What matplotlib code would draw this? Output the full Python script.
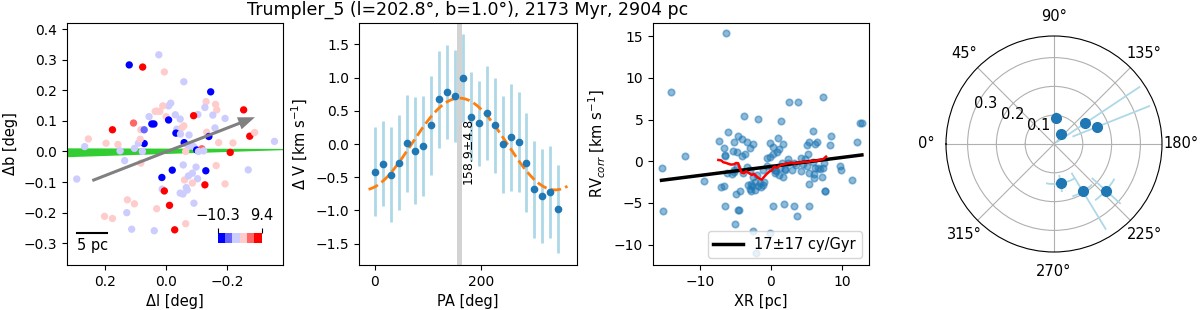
import numpy as np
import matplotlib
matplotlib.use('Agg')
import matplotlib.pyplot as plt
from matplotlib.colors import Normalize
from matplotlib.cm import ScalarMappable

title = 'Trumpler_5 (l=202.8°, b=1.0°), 2173 Myr, 2904 pc'
dist_pc = 2904
scale_pc = 5

# Panel 1: sky positions coloured by velocity
dl = [0.024, 0.121, 0.077, 0.006, -0.058, -0.146, -0.131, -0.162, -0.166, -0.127,
      -0.015, -0.008, 0.011, 0.030, 0.036, 0.021, -0.030, 0.000, -0.008, -0.046,
      -0.104, -0.090, -0.153, -0.193, -0.254, 0.056, 0.047, 0.040, 0.107, 0.176,
      0.083, 0.072, -0.035, -0.052, -0.058, -0.032, -0.047, -0.075, -0.133, -0.140,
      -0.160, -0.172, -0.219, -0.274, -0.290, -0.059, 0.072, 0.091, 0.085, 0.267,
      0.255, 0.197, 0.158, 0.151, 0.104, 0.078, -0.073, -0.090, -0.100, -0.117,
      -0.106, -0.123, -0.064, -0.210, -0.355, 0.293, 0.136, 0.083, -0.056, -0.098,
      -0.164, 0.014, -0.020, -0.060, -0.073, -0.086, -0.103, -0.130, -0.127, -0.086,
      -0.193, -0.269, 0.013, 0.006, -0.046, -0.055, -0.069, -0.066, 0.127, 0.104,
      -0.011, -0.091, 0.129, 0.031, 0.202, 0.176, -0.064, 0.113, 0.039, -0.028]
db = [0.316, 0.283, 0.276, 0.260, 0.228, 0.195, 0.163, 0.154, 0.136, 0.144,
      0.158, 0.149, 0.149, 0.132, 0.131, 0.131, 0.120, 0.114, 0.103, 0.106,
      0.121, 0.117, 0.119, 0.108, 0.136, 0.114, 0.090, 0.090, 0.093, 0.071,
      0.071, 0.071, 0.073, 0.078, 0.084, 0.060, 0.057, 0.054, 0.063, 0.049,
      0.077, 0.029, 0.028, 0.050, 0.062, 0.029, 0.026, 0.027, 0.040, 0.016,
      0.041, 0.027, 0.023, 0.002, 0.010, 0.000, 0.016, 0.016, 0.005, 0.009,
      0.000, 0.002, 0.000, -0.003, 0.033, -0.090, -0.030, -0.038, -0.044, -0.051,
      -0.046, -0.085, -0.061, -0.093, -0.080, -0.071, -0.089, -0.063, -0.109, -0.103,
      -0.106, -0.060, -0.123, -0.129, -0.136, -0.139, -0.126, -0.118, -0.158, -0.171,
      -0.176, -0.169, -0.200, -0.187, -0.212, -0.219, -0.236, -0.254, -0.259, -0.256]
dv = [-2, -9, 8, 1.5, -2, -8, 1.5, 1.5, 1.5, -2,
      -2, -2, 1.5, 1.5, 1.5, 1.5, -2, 1.5, -8, -2,
      -2, 8, -2, -2, 8, -2, -9, -8, 5, 8,
      1.5, -6, -2, 1.5, 1.5, -9, -2, -2, 1.5, -8,
      -2, 1.5, 1.5, 8, 1.5, -9, -9, -2, 1.5, -2,
      1.5, 1.5, 1.5, -2, -2, -2, -2, -2, -9, 5,
      -2, -2, 1.5, 8, -2, -2, -2, 1.5, -2, -2,
      1.5, -9, -9, 1.5, -2, -2, -2, -8, 8, 1.5,
      1.5, -2, -2, 8, -2, -2, -2, -2, 1.5, 1.5,
      8, -2, -2, 1.5, 1.5, 1.5, 1.5, -2, -2, 8]
dv_min, dv_max = -10.3, 9.4
arrow_tail = (0.242, -0.095)
arrow_tip = (-0.291, 0.112)
plane_l = [0.325, -0.383]
plane_b_lo = [-0.017, 0.006]
plane_b_hi = [0.012, 0.010]

# Panel 2: velocity vs position angle
pa = [0, 15, 30, 45, 60, 75, 90, 105, 120, 135, 150, 165,
      180, 195, 210, 225, 240, 255, 270, 285, 300, 315, 330, 345]
dvel = [-0.42, -0.30, -0.46, -0.28, 0.01, -0.10, -0.03, 0.28, 0.67, 0.78, 0.72, 0.99,
        0.41, 0.31, 0.47, 0.28, -0.005, 0.10, 0.035, -0.28, -0.68, -0.78, -0.72, -0.98]
dvel_err = [0.67, 0.64, 0.71, 0.71, 0.73, 0.80, 0.75, 0.74, 0.73, 0.71, 0.69, 0.66,
            0.67, 0.64, 0.71, 0.71, 0.73, 0.80, 0.75, 0.74, 0.73, 0.71, 0.69, 0.66]
pa_fit, pa_fit_err, amp_fit = 158.9, 4.8, 0.69

# Panel 3: corrected RV vs distance along rotation axis
xr = [-6.38, -14.13, -15.4, -15.26, -12.07, -9.44, -7.32, -6.1, -6.6, -6.48,
      -6.45, -3.85, -1.83, -4.69, -5.21, -4.04, -3.43, -2.91, -2.49, -3.71,
      -4.13, -5.3, -6.15, -5.45, -5.21, -7.0, -6.57, -6.48, -4.98, -4.37,
      -4.65, -4.55, -5.12, -3.9, -3.43, -2.77, -2.77, -2.3, -2.2, -1.88,
      -1.46, -1.08, -0.94, -2.02, -2.5, -1.17, -0.56, -0.14, 0.23, 0.23,
      0.85, 1.03, 1.64, 1.17, 1.46, 2.58, 3.85, 7.37, 5.87, 5.4,
      5.12, 5.21, 6.24, 6.43, 8.4, 8.31, 9.72, 9.9, 11.4, 12.16,
      12.49, 0.23, 1.78, 3.24, 5.3, 3.71, 7.6, 7.65, 5.3, 5.4,
      6.06, 6.57, 7.14, 6.9, 7.28, 7.42, 1.74, 1.27, 2.35, 1.97,
      2.96, 2.44, 3.29, 4.23, 4.79, 5.12, 5.87, 6.2, -0.14, 0.09,
      0.66, 1.17, -4.74, -2.49, -0.14, -2.16, -4.74, -5.21, -3.2, -2.6,
      -3.0, -1.6, -0.5, 0.5, 2.0, 3.5, 4.5, 6.0, -3.0, 4.18,
      1.5, 0.56, 12.8]
rv = [15.36, 8.28, -0.84, -5.92, 0.68, -2.36, 2.48, 3.56, 1.56, 0.68,
      0.75, 5.4, 5.04, 3.08, 2.28, 2.68, 2.28, 1.56, 2.04, 0.88,
      0.64, 1.28, -1.44, -1.56, -1.04, -3.12, -2.96, -5.36, -3.92, -3.6,
      -5.84, -5.84, -7.56, -1.44, -0.64, -2.76, -3.56, -3.44, -2.44, -2.92,
      -3.12, -2.84, -2.48, -1.64, -1.84, -1.04, 0.36, 2.16, 1.76, 0.84,
      1.16, 2.76, 2.08, 1.48, 4.84, 7.16, 7.16, 7.76, 3.6, 2.36,
      1.96, 0.88, 2.08, 2.36, 3.04, 2.0, -0.56, -1.04, -2.28, 2.36,
      4.56, -5.36, -5.12, -5.36, -5.32, -6.52, -3.52, -3.56, -2.76, -1.36,
      -1.96, -0.84, -1.84, -0.92, -0.84, -0.16, -1.84, -0.84, -0.24, -0.92,
      -1.04, 0.24, -0.16, -1.16, 0.24, -0.52, -0.12, -0.84, 0.56, -0.84,
      -1.12, -1.64, 1.16, -8.36, -8.64, -11.04, -0.68, -1.24, -2.9, -3.0,
      -3.3, -2.6, -0.6, -1.0, -1.1, -0.4, -0.3, -1.5, -1.0, 0.44,
      -0.16, -1.44, 4.56]
run_x = [-7.4, -7.0, -6.7, -6.3, -6.0, -5.6, -5.2, -4.9, -4.6, -4.5, -4.37, -4.13,
         -3.8, -3.5, -3.3, -3.05, -2.7, -2.4, -2.0, -1.64, -1.3, -1.0, -0.6, -0.23,
         0.1, 0.3, 0.56, 0.8, 1.17, 1.5, 1.97, 2.44, 2.9, 3.3, 3.85, 4.3,
         4.8, 5.2, 5.7, 6.4, 6.9, 7.4, 7.75]
run_y = [0.16, 0.1, -0.12, -0.2, -0.3, -0.4, -0.36, -0.2, -0.24, -0.6, -0.84, -1.36,
         -1.44, -1.2, -1.3, -1.44, -1.64, -1.5, -1.84, -2.08, -2.2, -1.9, -1.52, -1.24,
         -1.1, -0.8, -0.64, -0.8, -0.56, -0.44, -0.32, -0.24, -0.16, -0.25, -0.16, -0.12,
         -0.04, -0.08, 0.04, 0.08, 0.16, 0.28, 0.56]
fit_slope, fit_icpt = 0.108, -0.62
fit_label = '17±17 cy/Gyr'

# Panel 4: polar
pol_theta = [93.7, 125.9, 146.3, 158.3, 260.5, 238.7, 221.9]
pol_r = [0.090, 0.041, 0.129, 0.159, 0.139, 0.193, 0.242]
pol_theta_err = [0, 0, 0, 0, 21, 12, 12]
pol_r_lo = [0.02, 0.01, 0.12, 0.09, 0.03, 0.076, 0.066]
pol_r_hi = [0.02, 0.01, 0.23, 0.20, 0.03, 0.155, 0.069]

W, H = 1200, 310
fig = plt.figure(figsize=(12, 3.1), dpi=100)
bot, hgt = 45 / H, 242 / H

# ---- panel 1
ax1 = fig.add_axes([67 / W, bot, 216 / W, hgt])
cmap = plt.get_cmap('bwr', 6)
norm = Normalize(vmin=dv_min, vmax=dv_max)
ax1.fill_between(plane_l, plane_b_lo, plane_b_hi, color='limegreen', lw=0, zorder=1)
ax1.scatter(dl, db, c=dv, cmap=cmap, norm=norm, s=28, linewidths=0, zorder=2)
ax1.arrow(arrow_tail[0], arrow_tail[1], arrow_tip[0] - arrow_tail[0], arrow_tip[1] - arrow_tail[1],
          width=0.010, head_width=0.042, head_length=0.055, length_includes_head=True,
          color='gray', lw=0, zorder=3)
bar_len = np.degrees(scale_pc / dist_pc)
ax1.plot([0.293, 0.293 - bar_len], [-0.267, -0.267], color='k', lw=1.5)
ax1.text(0.293, -0.282, f'{scale_pc} pc', ha='left', va='top', fontsize=10.5)
ax1.set_xlim(0.325, -0.383)
ax1.set_ylim(-0.371, 0.42)
ax1.set_yticks([-0.3, -0.2, -0.1, 0.0, 0.1, 0.2, 0.3, 0.4])
ax1.set_xticks([0.2, 0.0, -0.2])
ax1.set_xlabel('Δl [deg]', fontsize=10.5)
ax1.set_ylabel('Δb [deg]', fontsize=10.5)
cax = ax1.inset_axes([0.698, 0.092, 0.203, 0.041])
cb = fig.colorbar(ScalarMappable(norm=norm, cmap=cmap), cax=cax, orientation='horizontal',
                  ticks=[dv_min, dv_max])
cb.outline.set_visible(False)
cax.xaxis.set_ticks_position('top')
cb.set_ticklabels([f'{dv_min:.1f}'.replace('-', '\u2212'), f'{dv_max:.1f}'], fontsize=10.5)

# ---- panel 2
ax2 = fig.add_axes([359 / W, bot, 218 / W, hgt])
ax2.axvspan(pa_fit - pa_fit_err, pa_fit + pa_fit_err, color='lightgray', lw=0, zorder=0)
ax2.errorbar(pa, dvel, yerr=dvel_err, fmt='none', ecolor='lightblue', elinewidth=2, zorder=2)
pa_curve = np.linspace(-12, 362, 200)
ax2.plot(pa_curve, amp_fit * np.cos(np.radians(pa_curve - pa_fit)), '--', color='C1', lw=2, zorder=3)
ax2.plot(pa, dvel, 'o', color='C0', ms=4.5, zorder=4)
ax2.text(pa_fit + 5, -0.1, f'{pa_fit}±{pa_fit_err}', rotation=90, ha='left', va='center', fontsize=9)
ax2.set_xlim(-30, 380)
ax2.set_ylim(-1.82, 1.82)
ax2.set_xticks([0, 200])
ax2.set_xlabel('PA [deg]', fontsize=10.5)
ax2.set_ylabel('Δ V [km s$^{-1}$]', fontsize=10.5)
ax2.set_title(title, fontsize=12.5)

# ---- panel 3
ax3 = fig.add_axes([653 / W, bot, 216 / W, hgt])
ax3.scatter(xr, rv, s=22, facecolor='C0', edgecolor='C0', linewidths=1.2, alpha=0.5)
xx = np.array([min(xr), max(xr)])
ax3.plot(xx, fit_slope * xx + fit_icpt, color='k', lw=2.5, label=fit_label)
ax3.plot(run_x, run_y, color='red', lw=1.8)
ax3.set_xlim(-16.6, 13.8)
ax3.set_ylim(-12.45, 16.6)
ax3.set_xticks([-10, 0, 10])
ax3.set_yticks([-10, -5, 0, 5, 10, 15])
ax3.set_xlabel('XR [pc]', fontsize=10.5)
ax3.set_ylabel('RV$_{corr}$ [km s$^{-1}$]', fontsize=10.5)
ax3.legend(loc='lower right', fontsize=10.5)

# ---- panel 4
ax4 = fig.add_axes([946 / W, bot, 216 / W, hgt], projection='polar')
ax4.set_theta_zero_location('W')
ax4.set_theta_direction(-1)
ax4.errorbar(np.radians(pol_theta), pol_r, xerr=np.radians(pol_theta_err),
             yerr=[pol_r_lo, pol_r_hi], fmt='o', color='C0', ecolor='lightblue',
             ms=7, elinewidth=1.3, capsize=0)
ax4.set_rlim(0, 0.375)
ax4.set_rticks([0.1, 0.2, 0.3])
ax4.tick_params(labelsize=10.5)

fig.savefig('out.png', dpi=100)
